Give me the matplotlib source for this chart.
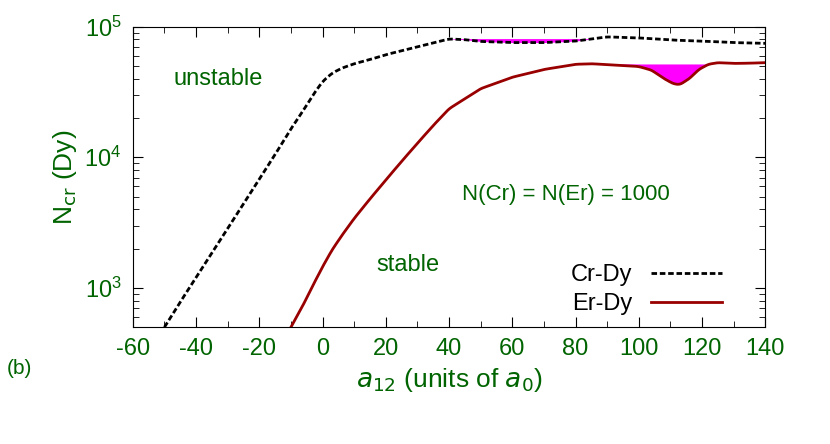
import numpy as np
import matplotlib.pyplot as plt
from matplotlib.ticker import LogLocator, MultipleLocator, NullFormatter

plt.rcParams['font.family'] = 'Liberation Sans'
plt.rcParams['axes.unicode_minus'] = False
green = '#006400'

# Cr-Dy critical number
cr_x = [-50, -45, -40, -35, -30, -25, -20, -15, -10, -6, -3, 0, 3, 6, 10, 15, 20, 30, 40, 45, 50, 60, 70, 80, 85, 90, 100, 110, 120, 130, 140]
cr_y = [500, 780, 1200, 1850, 2850, 4400, 6800, 10500, 16500, 23000, 30000, 38000, 44000, 48000, 52000, 56000, 61000, 70000, 80500, 79500, 77000, 75500, 75500, 77500, 80500, 83500, 82000, 79000, 77500, 75500, 74500]

# Er-Dy critical number
er_x = [-10, -6, -3, 0, 3, 6, 10, 15, 20, 25, 30, 35, 40, 50, 60, 70, 80, 85, 90, 95, 100, 104, 108, 111, 113, 116, 119, 122, 125, 130, 135, 140]
er_y = [500, 750, 1050, 1450, 1950, 2500, 3400, 4800, 6700, 9300, 12800, 17500, 23500, 33500, 41000, 47000, 51500, 52000, 51200, 50500, 49500, 46500, 40000, 36500, 36000, 40000, 47000, 51500, 53000, 52300, 52500, 53000]

fig, ax = plt.subplots(figsize=(8.30, 4.44), dpi=100)
fig.subplots_adjust(left=0.16, right=0.922, top=0.94, bottom=0.263)

xs = np.linspace(-50, 140, 1200)
cr_i = 10**np.interp(xs, cr_x, np.log10(cr_y))
cr_i = 10**np.convolve(np.log10(cr_i), np.ones(15) / 15, mode='same')
cr_i[:8] = 10**np.interp(xs[:8], cr_x, np.log10(cr_y))
cr_i[-8:] = 10**np.interp(xs[-8:], cr_x, np.log10(cr_y))
xe = np.linspace(-10, 140, 1200)
er_i = 10**np.interp(xe, er_x, np.log10(er_y))
er_i = 10**np.convolve(np.log10(er_i), np.ones(15) / 15, mode='same')
er_i[:8] = 10**np.interp(xe[:8], er_x, np.log10(er_y))
er_i[-8:] = 10**np.interp(xe[-8:], er_x, np.log10(er_y))

# shaded instability pockets
m = (xs >= 40) & (xs <= 91)
ax.fill_between(xs[m], cr_i[m], 81000, where=cr_i[m] < 81000, color='magenta', lw=0)
m = (xe >= 85) & (xe <= 125)
ax.fill_between(xe[m], er_i[m], 51800, where=er_i[m] < 51800, color='magenta', lw=0)

ax.plot(xs, cr_i, color='black', ls=(0, (2, 1)), lw=2, label='Cr-Dy')
ax.plot(xe, er_i, color='#990000', lw=2, label='Er-Dy')

ax.set_yscale('log')
ax.set_xlim(-60, 140)
ax.set_ylim(500, 1e5)
ax.xaxis.set_major_locator(MultipleLocator(20))
ax.xaxis.set_minor_locator(MultipleLocator(10))
ax.yaxis.set_minor_locator(LogLocator(subs=np.arange(2, 10)))
ax.yaxis.set_minor_formatter(NullFormatter())
ax.tick_params(which='both', direction='in', top=True, right=True, labelsize=17, colors=green, labelcolor=green)
ax.tick_params(which='both', color='black')
ax.tick_params(which='major', length=7, pad=8)
ax.tick_params(which='minor', length=4)

ax.set_xlabel(r'$a_{12}$ (units of $a_0$)', fontsize=19, color=green)
ax.set_ylabel(r'N$_{\rm cr}$ (Dy)', fontsize=19, color=green)
ax.text(-47, 40000, 'unstable', fontsize=17, color=green, va='center')
ax.text(17, 1500, 'stable', fontsize=17, color=green, va='center')
ax.text(77, 5200, 'N(Cr) = N(Er) = 1000', fontsize=16, color=green, ha='center', va='center')
ax.text(-0.2, -0.155, '(b)', transform=ax.transAxes, fontsize=15, color=green)

leg = ax.legend(loc='lower right', frameon=False, fontsize=17, markerfirst=False,
                handlelength=3, labelspacing=0.3, bbox_to_anchor=(0.965, -0.03))

plt.savefig('out.png', dpi=100)
